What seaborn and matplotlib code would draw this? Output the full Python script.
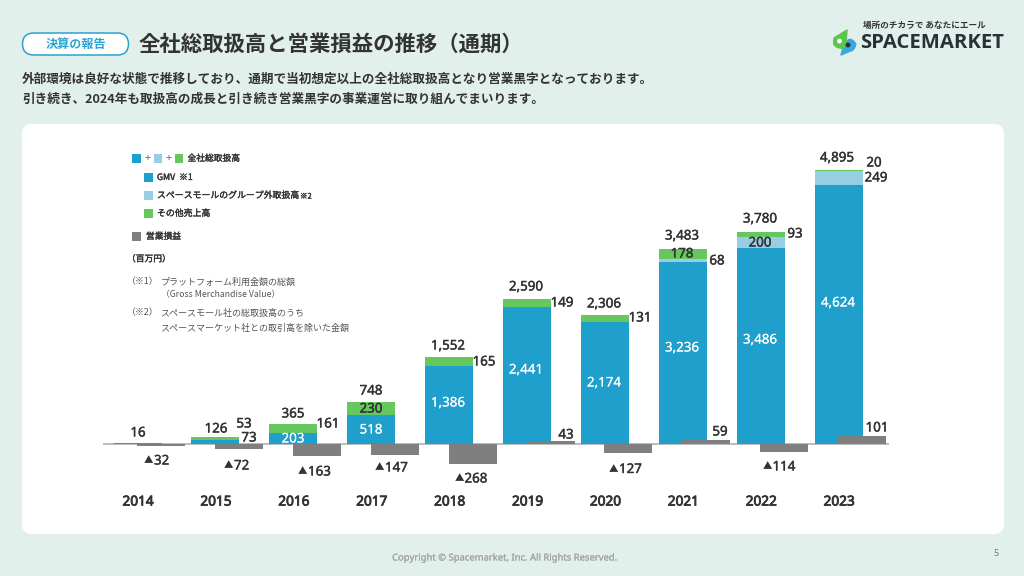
import matplotlib
matplotlib.use('Agg')
import matplotlib.pyplot as plt
from matplotlib.patches import Circle, FancyBboxPatch, Polygon, Rectangle
import matplotlib.patheffects as pe
import numpy as np
import seaborn as sns

years = [2014, 2015, 2016, 2017, 2018, 2019, 2020, 2021, 2022, 2023]
gmv = [16, 73, 203, 518, 1386, 2441, 2174, 3236, 3486, 4624]
mall = [0, 0, 0, 0, 0, 0, 0, 68, 200, 249]
other = [0, 53, 161, 230, 165, 149, 131, 178, 93, 20]
totals = [16, 126, 365, 748, 1552, 2590, 2306, 3483, 3780, 4895]
op_profit = [-32, -72, -163, -147, -268, 43, -127, 59, -114, 101]

C_BG = '#E1F0EB'
C_GMV = '#1F9FCC'
C_MALL = '#97CEE3'
C_OTHER = '#66C75F'
C_OP = '#7F7F7F'
C_TEXT = '#333333'

sns.set_theme(style='white')
JP = ['Noto Sans CJK JP', 'DejaVu Sans']
NUM = ['Noto Sans', 'DejaVu Sans']
plt.rcParams['font.family'] = JP

fig = plt.figure(figsize=(10.24, 5.76), dpi=100, facecolor=C_BG)


def px_axes(zorder):
    a = fig.add_axes([0, 0, 1, 1], zorder=zorder)
    a.set_xlim(0, 1024)
    a.set_ylim(576, 0)
    a.axis('off')
    a.patch.set_alpha(0)
    return a


back = px_axes(0)
back.add_patch(FancyBboxPatch((22, 124), 982, 410, boxstyle='round,pad=0,rounding_size=10',
                              fc='white', ec='none'))

# chart axes: baseline at y=444px, 2014 centre at x=137.5px, 77.9px per year
BASE_PX = 444
X0_PX = 137.5
STEP = 77.9
PX_STACK = 0.0561
PX_OP = 0.0745  # the loss bars use their own, larger scale
top_px, bot_px = 150, 490
left_px, right_px = 103, 889
rect = [left_px / 1024, 1 - bot_px / 576, (right_px - left_px) / 1024, (bot_px - top_px) / 576]
ax = fig.add_axes(rect, zorder=1)
ax.patch.set_alpha(0)
ax2 = ax.twinx()
ax2.patch.set_alpha(0)

x_stack = np.array(years, dtype=float)
x_op = x_stack + 0.302
total_gmv = np.array(gmv)
total_mall = total_gmv + np.array(mall)
total_all = total_mall + np.array(other)
bar_w = 48 / STEP

ax.axhline(0, color='#B0B0B0', lw=1.2, zorder=1)
for vals, col in [(total_all, C_OTHER), (total_mall, C_MALL), (total_gmv, C_GMV)]:
    sns.barplot(x=x_stack, y=vals, native_scale=True, width=bar_w, color=col, saturation=1, linewidth=0,
                ax=ax, zorder=2)
sns.barplot(x=x_op, y=op_profit, native_scale=True, width=bar_w, color=C_OP, saturation=1, linewidth=0,
            ax=ax2, zorder=3)

for a, scale in [(ax, PX_STACK), (ax2, PX_OP)]:
    a.set_xlim(2014 - (X0_PX - left_px) / STEP, 2014 + (right_px - X0_PX) / STEP)
    a.set_ylim(-(bot_px - BASE_PX) / scale, (BASE_PX - top_px) / scale)
    a.axis('off')

top = px_axes(2)


def jp(x, y, s, size, weight='normal', color=C_TEXT, ha='left', stroke=0):
    t = top.text(x, y, s, fontsize=size, fontweight=weight, color=color, ha=ha, va='center', family=JP)
    if stroke:
        t.set_path_effects([pe.withStroke(linewidth=stroke, foreground=color)])


def num(x, y, s, color=C_TEXT, size=9.6, ha='center', stroke=0.3):
    t = top.text(x, y + 1, s, fontsize=size, color=color, ha=ha, va='center', family=NUM)
    if stroke:
        t.set_path_effects([pe.withStroke(linewidth=stroke, foreground=color)])


# header
top.add_patch(FancyBboxPatch((22.5, 33), 106, 22, boxstyle='round,pad=0,rounding_size=11',
                             fc='white', ec='#2BA3D0', lw=1.1))
jp(75.5, 44, '決算の報告', 8.7, 'bold', color='#2BA3D0', ha='center')
jp(139, 44, '全社総取扱高と営業損益の推移（通期）', 15.4, 'bold')
jp(22, 79.5, '外部環境は良好な状態で推移しており、通期で当初想定以上の全社総取扱高となり営業黒字となっております。', 9.1, 'bold')
jp(22, 99.5, '引き続き、2024年も取扱高の成長と引き続き営業黒字の事業運営に取り組んでまいります。', 9.1, 'bold')

# logo
jp(924, 25, '場所のチカラで あなたにエール', 6.2, 'bold', ha='center')
top.text(860, 42.5, 'SPACEMARKET', fontsize=14.6, fontweight='bold', color='#2B3036', ha='left', va='center',
         family=['Open Sans', 'DejaVu Sans'])
top.add_patch(Polygon([(841, 55), (844, 44), (850, 39), (856, 44), (853, 50)], fc='#3BA7E0', ec='#3BA7E0', lw=1,
                      joinstyle='round'))
top.add_patch(Circle((850, 45), 6, fc='#3BA7E0', ec='none'))
top.add_patch(Polygon([(847, 30), (846, 44), (843, 49), (834, 45), (834, 38)], fc='#5CC552', ec='#5CC552', lw=1,
                      joinstyle='round'))
top.add_patch(Circle((839.5, 42), 6.5, fc='#5CC552', ec='none'))
top.add_patch(Circle((839.5, 41), 2.4, fc='white', ec='none'))
top.add_patch(Circle((848, 45), 2.4, fc='#2B3036', ec='none'))


# legend
def sq(x, y, col, s=8.5):
    top.add_patch(Rectangle((x, y - s / 2), s, s, fc=col, ec='none'))


LEG = 0.25
sq(132, 158.5, C_GMV)
jp(147.5, 158, '+', 8, color='#666666', ha='center')
sq(153.5, 158.5, C_MALL)
jp(168.5, 158, '+', 8, color='#666666', ha='center')
sq(174.5, 158.5, C_OTHER)
jp(187.5, 158.5, '全社総取扱高', 6.3, stroke=LEG)
sq(144, 177.5, C_GMV)
jp(157, 177.5, 'GMV  ※1', 6.3, stroke=LEG)
sq(144, 195.5, C_MALL)
jp(157, 195.5, 'スペースモールのグループ外取扱高', 6.4, stroke=LEG)
jp(300, 196.5, '※2', 5.4, stroke=LEG)
sq(144, 213.5, C_OTHER)
jp(157, 213.5, 'その他売上高', 6.4, stroke=LEG)
sq(132, 236.5, C_OP)
jp(146, 236.5, '営業損益', 6.3, stroke=LEG)
jp(127, 259, '（百万円）', 6.3, stroke=LEG)
jp(127, 282, '（※1）', 6.4, color='#555555')
jp(160.5, 282, 'プラットフォーム利用金額の総額', 6.5, color='#555555')
jp(161, 295, '（Gross Merchandise Value）', 6.3, color='#555555')
jp(127, 313, '（※2）', 6.4, color='#555555')
jp(160.5, 313, 'スペースモール社の総取扱高のうち', 6.5, color='#555555')
jp(160.5, 328, 'スペースマーケット社との取引高を除いた金額', 6.5, color='#555555')

# value labels
total_pos = [(138, 432), (216, 428), (293, 413), (371, 390), (448, 345), (526, 286), (604, 303), (682, 235),
             (760, 218), (837, 157)]
for v, (x, y) in zip(totals, total_pos):
    num(x, y, f'{v:,}')

gmv_pos = {2: (293, 438), 3: (371, 429), 4: (448, 402), 5: (526, 369), 6: (604, 382), 7: (682, 347), 8: (760, 339),
           9: (838, 302)}
for i, (x, y) in gmv_pos.items():
    num(x, y, f'{gmv[i]:,}', color='white', stroke=0.1)
num(249, 437, f'{gmv[1]}')

other_pos = {1: (244, 423), 2: (328, 423), 3: (371, 408), 4: (484, 361), 5: (562, 302), 6: (640, 317), 7: (682, 253),
             8: (795, 233), 9: (874, 162)}
for i, (x, y) in other_pos.items():
    num(x, y, f'{other[i]}')

mall_pos = {7: (717, 260), 8: (760, 242), 9: (876, 177)}
for i, (x, y) in mall_pos.items():
    num(x, y, f'{mall[i]}')

# x is the split between the triangle and the digits for losses, the centre for profits
op_pos = [(153.5, 460), (233.5, 465), (307.5, 471), (384.5, 467), (464, 478), (566, 434), (618.5, 468.5), (720, 431),
          (772, 466), (877, 427)]
for v, (x, y) in zip(op_profit, op_pos):
    if v < 0:
        top.text(x, y + 1, '▲', fontsize=6.8, color=C_TEXT, ha='right', va='center', family=JP)
        num(x + 0.5, y, str(-v), ha='left')
    else:
        num(x, y, str(v))

for i, yr in enumerate(years):
    num(138 + STEP * i, 501, str(yr), size=9.8, stroke=0.6)

# footer
num(504, 557, 'Copyright © Spacemarket, Inc. All Rights Reserved.', color='#A6A6A6', size=6.8, stroke=0.15)
num(996, 553, '5', color='#777777', size=6.5, stroke=0)

fig.savefig('out.png', dpi=100, facecolor=C_BG)
plt.close(fig)
